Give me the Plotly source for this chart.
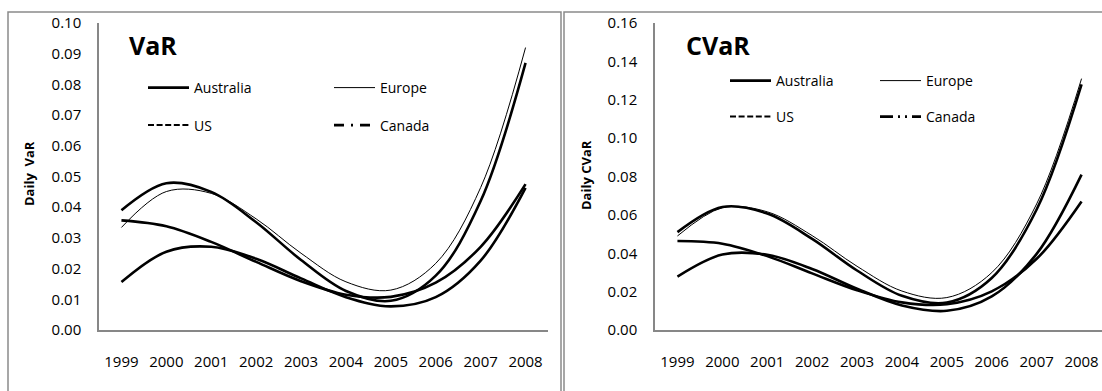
import plotly.graph_objects as go

W, H = 1102, 391

years = [1999, 2000, 2001, 2002, 2003, 2004, 2005, 2006, 2007, 2008]
year_labels = [str(y) for y in years]
countries = ["Australia", "Europe", "US", "Canada"]

var_australia = [0.0390, 0.0478, 0.0450, 0.0351, 0.0228, 0.0127, 0.0095, 0.0177, 0.0420, 0.0870]
var_europe    = [0.0334, 0.0451, 0.0445, 0.0362, 0.0250, 0.0157, 0.0130, 0.0217, 0.0464, 0.0920]
var_us        = [0.0357, 0.0338, 0.0287, 0.0222, 0.0159, 0.0115, 0.0108, 0.0154, 0.0271, 0.0475]
var_canada    = [0.0156, 0.0255, 0.0271, 0.0232, 0.0168, 0.0107, 0.0077, 0.0107, 0.0226, 0.0463]

cvar_australia = [0.0510, 0.0641, 0.0607, 0.0475, 0.0310, 0.0178, 0.0143, 0.0271, 0.0628, 0.1280]
cvar_europe    = [0.0490, 0.0637, 0.0616, 0.0492, 0.0332, 0.0203, 0.0169, 0.0299, 0.0657, 0.1310]
cvar_us        = [0.0464, 0.0450, 0.0385, 0.0295, 0.0207, 0.0144, 0.0134, 0.0201, 0.0371, 0.0670]
cvar_canada    = [0.0278, 0.0393, 0.0392, 0.0318, 0.0215, 0.0128, 0.0100, 0.0175, 0.0397, 0.0810]

var_tick_vals = [0.00, 0.01, 0.02, 0.03, 0.04, 0.05, 0.06, 0.07, 0.08, 0.09, 0.10]
cvar_tick_vals = [0.00, 0.02, 0.04, 0.06, 0.08, 0.10, 0.12, 0.14, 0.16]


def px(x):
    return x / W


def py(y):
    return 1 - y / H


FONT = "Open Sans"
AXIS_GREY = "#878787"

plot_width = {"Australia": 2.6, "Europe": 1.0, "US": 2.6, "Canada": 2.6}
legend_style = {
    "left": {
        "Australia": dict(width=2.8, dash="solid"),
        "Europe": dict(width=1.0, dash="solid"),
        "US": dict(width=2.0, dash="6px,2.6px"),
        "Canada": dict(width=2.6, dash="10px,7px,2px,7px"),
    },
    "right": {
        "Australia": dict(width=2.8, dash="solid"),
        "Europe": dict(width=1.0, dash="solid"),
        "US": dict(width=2.0, dash="6px,2.6px"),
        "Canada": dict(width=2.6, dash="13px,5px,2px,5px,2px,5px"),
    },
}

fig = go.Figure()

panels = [
    ("left", "x", "y", [var_australia, var_europe, var_us, var_canada], ["legend", "legend2", "legend3", "legend4"]),
    ("right", "x2", "y2", [cvar_australia, cvar_europe, cvar_us, cvar_canada], ["legend5", "legend6", "legend7", "legend8"]),
]

for side, xa, ya, series, legs in panels:
    for name, vals in zip(countries, series):
        fig.add_trace(go.Scatter(
            x=years, y=vals, mode="lines", name=name, xaxis=xa, yaxis=ya,
            line=dict(color="black", width=plot_width[name], shape="spline", smoothing=1.0),
            showlegend=False, hoverinfo="skip",
        ))
    for name, leg in zip(countries, legs):
        st = legend_style[side][name]
        fig.add_trace(go.Scatter(
            x=[None], y=[None], mode="lines", name=name, xaxis=xa, yaxis=ya,
            line=dict(color="black", width=st["width"], dash=st["dash"]),
            showlegend=True, legend=leg, hoverinfo="skip",
        ))

tickfont = dict(family=FONT, size=15, color="#000000")
common_x = dict(
    tickmode="array", tickvals=years, ticktext=year_labels, showline=True, linecolor=AXIS_GREY,
    linewidth=1.5, ticks="outside", ticklen=17, tickcolor="rgba(0,0,0,0)", showgrid=False,
    zeroline=False, tickfont=tickfont, fixedrange=True, automargin=False,
)
common_y = dict(
    showline=True, linecolor=AXIS_GREY, linewidth=1.5, ticks="outside", ticklen=13,
    tickcolor="rgba(0,0,0,0)", showgrid=False, zeroline=False, tickfont=tickfont,
    tickformat=".2f", fixedrange=True, tickmode="array", automargin=False,
)

fig.update_layout(
    width=W, height=H, margin=dict(l=0, r=0, t=0, b=0, pad=0, autoexpand=False),
    paper_bgcolor="white", plot_bgcolor="white",
    xaxis=dict(domain=[px(99), px(548)], range=[1998.5, 2008.5], **common_x),
    yaxis=dict(domain=[py(330), py(23)], range=[0, 0.10], tickvals=var_tick_vals, **common_y),
    xaxis2=dict(domain=[px(655), 1.0], range=[1998.5, 1998.5 + (W - 655) / 44.9], anchor="y2", **common_x),
    yaxis2=dict(domain=[py(330), py(23)], range=[0, 0.16], tickvals=cvar_tick_vals, anchor="x2", **common_y),
)

legend_pos = {
    "legend": (143, 88), "legend2": (329, 88), "legend3": (143, 125.5), "legend4": (329, 125.5),
    "legend5": (725, 81), "legend6": (875, 81), "legend7": (725, 117), "legend8": (875, 117),
}
for leg, (lx, ly) in legend_pos.items():
    fig.update_layout(**{leg: dict(
        x=px(lx), y=py(ly), xanchor="left", yanchor="middle", orientation="v",
        bgcolor="rgba(0,0,0,0)", borderwidth=0, itemwidth=41,
        font=dict(family=FONT, size=14, color="#000000"),
    )})

frame = dict(color="#8a8a8a", width=1.5)
fig.add_shape(type="rect", xref="paper", yref="paper", x0=px(8), x1=px(561), y0=-0.1, y1=py(12), line=frame)
fig.add_shape(type="rect", xref="paper", yref="paper", x0=px(564), x1=1.1, y0=-0.1, y1=py(12), line=frame)

fig.add_annotation(text="VaR", xref="paper", yref="paper", x=px(127), y=py(45), xanchor="left", yanchor="middle",
                   showarrow=False, font=dict(family=FONT, size=25, color="#000000", weight="bold"))
fig.add_annotation(text="CVaR", xref="paper", yref="paper", x=px(684), y=py(45), xanchor="left", yanchor="middle",
                   showarrow=False, font=dict(family=FONT, size=25, color="#000000", weight="bold"))
fig.add_annotation(text="Daily\u00a0 VaR", xref="paper", yref="paper", x=px(29), y=py(174), textangle=-90,
                   xanchor="center", yanchor="middle", showarrow=False,
                   font=dict(family=FONT, size=13, color="#000000", weight="bold"))
fig.add_annotation(text="Daily CVaR", xref="paper", yref="paper", x=px(586), y=py(175), textangle=-90,
                   xanchor="center", yanchor="middle", showarrow=False,
                   font=dict(family=FONT, size=13, color="#000000", weight="bold"))

fig.write_html(
    "out.html",
    config={"responsive": False, "displayModeBar": False},
    post_script="document.body.style.margin='0';document.body.style.padding='0';document.body.style.overflow='hidden';",
)
